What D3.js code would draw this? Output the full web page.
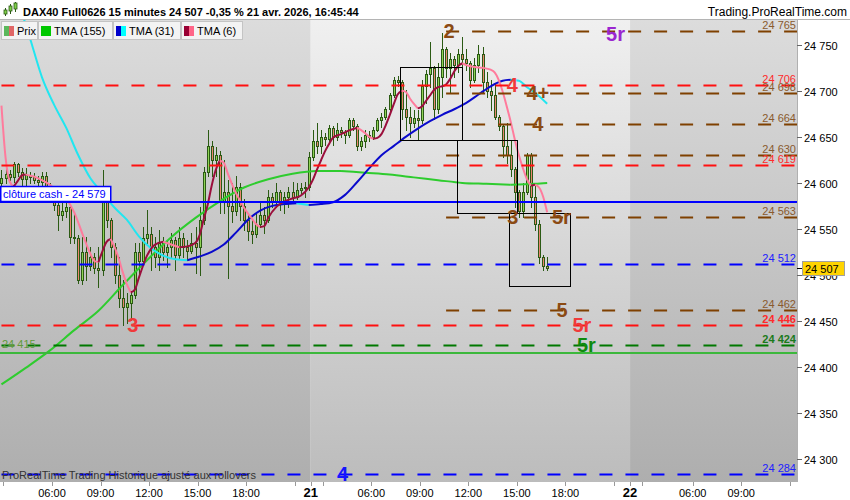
<!DOCTYPE html>
<html><head><meta charset="utf-8">
<script src="https://cdn.jsdelivr.net/npm/d3@7"></script>
<style>body{margin:0;background:#fff;} svg{display:block;font-family:"Liberation Sans",Arial,sans-serif;}</style>
</head><body><svg id="c" width="850" height="500"></svg>
<script>
// ---------- DATA ----------
const opens = [24600,24605,24610,24606,24620,24612,24604,24609,24606,24603,24601,24608,24590,24588,24576,24565,24570,24574,24541,24540,
24495,24525,24510,24520,24508,24505,24590,24560,24530,24500,24475,24465,24470,24478,24525,24515,24540,24545,24530,24520,
24535,24525,24530,24538,24522,24540,24530,24526,24535,24530,24560,24612,24640,24625,24630,24580,24590,24575,24570,24595,
24575,24560,24548,24545,24555,24565,24560,24585,24580,24590,24580,24585,24590,24585,24592,24594,24596,24628,24645,24640,
24650,24648,24660,24650,24658,24655,24652,24668,24662,24640,24645,24652,24650,24658,24668,24672,24680,24695,24712,24710,
24680,24672,24665,24670,24668,24705,24718,24725,24680,24715,24745,24725,24735,24728,24740,24735,24730,24712,24728,24740,
24710,24700,24695,24672,24662,24640,24630,24615,24590,24570,24590,24630,24585,24555,24520,24510];
const closes = [24605,24610,24606,24620,24612,24604,24609,24606,24603,24601,24608,24590,24588,24576,24565,24570,24574,24541,24540,24495,
24525,24510,24520,24508,24505,24590,24560,24530,24500,24475,24465,24470,24478,24525,24515,24540,24545,24530,24520,24535,
24525,24530,24538,24522,24540,24530,24526,24535,24530,24560,24612,24640,24625,24630,24580,24590,24575,24570,24595,24575,
24560,24548,24545,24555,24565,24560,24585,24580,24590,24580,24585,24590,24585,24592,24594,24596,24628,24645,24640,24650,
24648,24660,24650,24658,24655,24652,24668,24662,24640,24645,24652,24650,24658,24668,24672,24680,24695,24712,24710,24680,
24672,24665,24670,24668,24705,24718,24725,24680,24715,24745,24725,24735,24728,24740,24735,24730,24712,24728,24740,24710,
24700,24695,24672,24662,24640,24630,24615,24590,24570,24590,24630,24585,24555,24520,24510,24507];
const highs = [24614,24617,24614,24623,24622,24616,24616,24612,24611,24607,24612,24612,24600,24589,24582,24578,24578,24576,24567,24543,
24541,24541,24530,24524,24530,24614,24595,24562,24535,24520,24495,24480,24482,24535,24535,24552,24571,24552,24541,24549,
24541,24538,24546,24541,24552,24546,24538,24546,24552,24574,24617,24658,24645,24639,24635,24625,24603,24600,24607,24600,
24582,24567,24560,24567,24578,24574,24592,24589,24600,24592,24590,24596,24601,24600,24600,24601,24634,24658,24665,24658,
24654,24663,24662,24665,24661,24658,24671,24670,24664,24650,24658,24656,24661,24671,24676,24683,24698,24715,24716,24712,
24701,24683,24679,24679,24712,24723,24753,24727,24730,24763,24748,24741,24738,24745,24759,24745,24732,24736,24750,24748,
24720,24712,24709,24674,24664,24665,24647,24617,24592,24600,24633,24632,24600,24560,24522,24519];
const lows = [24596,24600,24603,24601,24607,24598,24596,24600,24600,24596,24596,24584,24585,24571,24549,24560,24563,24535,24535,24491,
24490,24495,24505,24502,24487,24500,24552,24520,24491,24465,24446,24448,24451,24475,24502,24512,24535,24505,24509,24505,
24516,24509,24520,24505,24518,24520,24516,24524,24502,24500,24555,24608,24607,24607,24567,24567,24497,24557,24565,24560,
24549,24538,24535,24541,24552,24546,24557,24574,24574,24571,24567,24574,24578,24583,24589,24585,24592,24625,24633,24633,
24641,24645,24641,24647,24650,24643,24650,24658,24636,24636,24639,24645,24648,24656,24661,24669,24678,24693,24705,24669,
24658,24650,24661,24647,24665,24687,24704,24669,24676,24693,24715,24698,24715,24720,24720,24723,24704,24710,24720,24698,
24693,24679,24669,24658,24628,24622,24607,24574,24563,24563,24588,24574,24549,24513,24505,24505];

const tma155Idx = [0,6,12,18,24,30,36,42,48,54,60,66,72,78,84,90,96,102,108,114,120,126,132,135];
const tma155Val = [24381,24399,24418,24440,24461,24489,24516,24541,24562,24580,24595,24604,24610,24613,24613,24611,24609,24606,24603,24600,24599,24598,24599,24600];

const tma31Idx = [0,4,7,10,13,16,19,22,25,28,31,34,37,40,43,46,49,52,55,58,61,64,67,70,73,76,79,82,85,88,91,94,97,100,103,106,109,112,115,118,121,124,126,128,130,132,135];
const tma31Val = [24848,24799,24758,24715,24685,24660,24630,24605,24589,24573,24560,24542,24529,24521,24517,24516,24520,24525,24533,24546,24560,24570,24575,24577,24578,24576,24577,24579,24587,24601,24616,24630,24640,24650,24659,24667,24674,24680,24687,24696,24705,24711,24712,24711,24704,24698,24686];

const tma6Idx = [0,1,2,3,4,5,6,8,10,12,14,16,18,20,22,23,24,25,26,27,28,29,30,31,32,33,34,36,38,40,42,44,46,48,49,50,51,52,53,54,55,56,57,58,59,60,62,63,64,65,66,68,70,72,74,76,77,78,79,80,81,82,84,86,88,90,
91,92,93,94,95,96,97,98,99,100,101,102,103,104,105,106,107,108,109,110,111,112,113,114,115,117,119,121,122,123,124,125,126,127,128,129,130,131,132,133,134,135];
const tma6Val = [24684,24628,24602,24596,24602,24608,24609,24607,24603,24598,24590,24583,24568,24545,24523,24515,24514,24526,24536,24539,24530,24518,24503,24490,24481,24484,24497,24521,24533,24536,24533,24530,24531,24535,24543,24560,24576,24597,24614,24624,24622,24610,24599,24589,24581,24573,24561,24555,24552,24553,24562,24574,24580,24583,24586,24595,24603,24614,24624,24634,24642,24649,24653,24657,24660,24654,
24650,24648,24649,24653,24662,24673,24685,24696,24700,24699,24692,24686,24681,24683,24689,24695,24701,24704,24705,24707,24713,24721,24727,24730,24728,24726,24725,24723,24720,24712,24699,24683,24666,24647,24630,24616,24604,24597,24598,24595,24585,24568];

const levelValues = [24765,24706,24698,24664,24630,24619,24563,24512,24462,24446,24424,24284];
const levelKinds  = ["brown","red","brown","brown","brown","red","brown","blue","brown","red","green","blue"];
const levelStartIdx = [110,0,110,110,110,0,110,0,110,0,0,0];
const levelBold = [false,false,false,false,false,false,false,false,false,true,true,false];

const cashClose = 24579;
const supportLine = 24415;
const lastPrice = 24507;

const annoText  = ["2","5r","4","4+","4","3","5r","5","5r","5r","3","4"];
const annoIdx   = [111.2,152.4,126.9,133.2,133.2,127.0,139.0,139.2,144.1,145.2,33.0,84.9];
const annoPrice = [24765,24762,24706,24698,24664,24563,24563,24462,24446,24424,24446,24284];
const annoKind  = ["brown","purple","red","brown","brown","brown","brown","brown","red","green","red","blue"];

const boxStartIdx = [99.1,113.2,126.0];
const boxEndIdx   = [114.4,128.0,141.1];
const boxTop      = [24726,24647,24567];
const boxBottom   = [24647,24567,24488];

const sessionBounds = [0,77,156,197.3];
const timeLabelIdx = [13,25,37,49,61,77,92,104,116,128,140,156,171.5,183.5];
const timeLabels = ["06:00","09:00","12:00","15:00","18:00","21","06:00","09:00","12:00","15:00","18:00","22","06:00","09:00"];
const timeMarkIdx = [1,13,25,37,49,61,73,77,80,92,104,116,128,140,152,156,159,171.5,183.5,195.5];
const priceTicks = [24300,24350,24400,24450,24500,24550,24600,24650,24700,24750];

// ---------- DRAW ----------
const W=850,H=500, L=0,R=797,T=20,B=482;
const svg=d3.select("#c");
const x=d3.scaleLinear().domain([0,197.3]).range([-0.55,797]);
const y=d3.scaleLinear().domain([24275,24777]).range([B,T]);
const fmt=d3.formatLocale({decimal:",",thousands:" ",grouping:[3],currency:["","€"]}).format(",d");

const defs=svg.append("defs");
function grad(id,c1,c2){const g=defs.append("linearGradient").attr("id",id).attr("x1",0).attr("y1",0).attr("x2",0).attr("y2",1);
 g.append("stop").attr("offset","0%").attr("stop-color",c1);g.append("stop").attr("offset","100%").attr("stop-color",c2);}
grad("gDark","#dcdcdc","#aeaeae");grad("gLight","#f0f0f0","#bcbcbc");
defs.append("clipPath").attr("id","plot").append("rect").attr("x",L).attr("y",T).attr("width",R-L).attr("height",B-T);

svg.append("rect").attr("width",W).attr("height",H).attr("fill","#fff");
// session backgrounds
const bg=svg.append("g");
for(let k=0;k<sessionBounds.length-1;k++){
  const x0=Math.max(L,x(sessionBounds[k])), x1=Math.min(R,x(sessionBounds[k+1]));
  bg.append("rect").attr("x",x0).attr("y",T).attr("width",x1-x0).attr("height",B-T).attr("fill",k%2===0?"url(#gDark)":"url(#gLight)");
}
const plot=svg.append("g").attr("clip-path","url(#plot)");

// candles
const bars=closes.map((c,i)=>({i,o:opens[i],h:highs[i],l:lows[i],c}));
const cg=plot.append("g");
bars.forEach(d=>{
  const cx=Math.round(x(d.i+0.5));
  cg.append("line").attr("x1",cx+0.5).attr("x2",cx+0.5).attr("y1",Math.round(y(d.h))).attr("y2",Math.round(y(d.l))+1)
    .attr("stroke","#2b5a14").attr("stroke-width",1);
  const yt=Math.round(y(Math.max(d.o,d.c))), yb=Math.round(y(Math.min(d.o,d.c)));
  cg.append("rect").attr("x",cx-0.5).attr("y",yt+0.5).attr("width",2).attr("height",Math.max(1,yb-yt))
    .attr("fill",d.c>=d.o?"#8fd356":"#ea8670").attr("stroke","#2b5a14").attr("stroke-width",1);
});

// moving averages
function maLine(idx,val,up,down,w){
  const pts=idx.map((i,k)=>({px:x(i+0.5),py:y(val[k]),v:val[k]}));
  const runs=[];let cur=[pts[0]],dir=null;
  for(let k=1;k<pts.length;k++){
    let d=Math.sign(pts[k].v-pts[k-1].v); if(d===0)d=dir===null?1:dir;
    if(dir!==null&&d!==dir){runs.push({dir,pts:cur});cur=[pts[k-1]];}
    dir=d;cur.push(pts[k]);
  }
  runs.push({dir,pts:cur});
  const line=d3.line().x(p=>p.px).y(p=>p.py).curve(d3.curveMonotoneX);
  runs.forEach(r=>plot.append("path").attr("d",line(r.pts)).attr("fill","none")
    .attr("stroke",r.dir>0?up:down).attr("stroke-width",w).attr("stroke-linejoin","round"));
}
maLine(tma155Idx,tma155Val,"#2ecc2e","#2ecc2e",2);
maLine(tma31Idx,tma31Val,"#0a0acc","#22e6f0",2);
maLine(tma6Idx,tma6Val,"#9b0f3c","#ff7b9c",2);

// levels
const lvColor={brown:"#7f4000",red:"#ff1010",blue:"#0000ff",green:"#007800"};
const lvText={brown:"#8a5a2e",red:"#ff2a2a",blue:"#2020ff",green:"#1a7a1a"};
levelValues.forEach((v,k)=>{
  plot.append("line").attr("x1",x(levelStartIdx[k])+2).attr("x2",R).attr("y1",Math.round(y(v))+0.5).attr("y2",Math.round(y(v))+0.5)
    .attr("stroke",lvColor[levelKinds[k]]).attr("stroke-width",2).attr("stroke-dasharray","13,13");
});
// support solid green & cash close
plot.append("line").attr("x1",L).attr("x2",R).attr("y1",Math.round(y(supportLine))).attr("y2",Math.round(y(supportLine)))
  .attr("stroke","#3cb83c").attr("stroke-width",2);
plot.append("line").attr("x1",L).attr("x2",R).attr("y1",Math.round(y(cashClose))).attr("y2",Math.round(y(cashClose)))
  .attr("stroke","#0000ff").attr("stroke-width",2);

// boxes
boxStartIdx.forEach((s,k)=>{
  const x0=Math.round(x(s))+0.5,x1=Math.round(x(boxEndIdx[k]))+0.5,y0=Math.round(y(boxTop[k]))+0.5,y1=Math.round(y(boxBottom[k]))+0.5;
  plot.append("rect").attr("x",x0).attr("y",y0).attr("width",x1-x0).attr("height",y1-y0).attr("fill","none").attr("stroke","#000").attr("stroke-width",1);
});

// level labels right
levelValues.forEach((v,k)=>{
  plot.append("text").attr("x",R-1).attr("y",Math.round(y(v))-2.5).attr("text-anchor","end")
   .attr("font-size",11).attr("font-weight",levelBold[k]?"bold":"normal").attr("fill",lvText[levelKinds[k]]).text(fmt(v));
});
plot.append("text").attr("x",2).attr("y",Math.round(y(supportLine))-5).attr("font-size",11).attr("fill","#5f9a3a").text(fmt(supportLine));

// cash label
const cy=Math.round(y(cashClose));
plot.append("rect").attr("x",0.75).attr("y",cy-15.5).attr("width",110).attr("height",15).attr("fill","#fff").attr("stroke","#0000ff").attr("stroke-width",1.5);
plot.append("text").attr("x",3).attr("y",cy-4).attr("font-size",11).attr("fill","#0000ff").text("clôture cash -  "+fmt(cashClose));

// annotations
const anColor={brown:"#8b4a13",purple:"#9b26d0",red:"#f03a3a",green:"#0f8a0f",blue:"#1515ff"};
annoText.forEach((t,k)=>{
  plot.append("text").attr("x",x(annoIdx[k])).attr("y",y(annoPrice[k])+7).attr("text-anchor","middle")
   .attr("font-size",20).attr("font-weight","bold").attr("fill",anColor[annoKind[k]]).text(t);
});

// footer text
plot.append("text").attr("x",2).attr("y",479).attr("font-size",11).attr("fill","#333").text("ProRealTime Trading  Historique ajusté aux rollovers");

// right axis
svg.append("line").attr("x1",R+0.5).attr("x2",R+0.5).attr("y1",T).attr("y2",B).attr("stroke","#b0b0b0");
const ax=svg.append("g");
priceTicks.forEach(v=>{
  const py=Math.round(y(v))+0.5;
  ax.append("line").attr("x1",R).attr("x2",R+5).attr("y1",py).attr("y2",py).attr("stroke","#666");
  ax.append("text").attr("x",R+7).attr("y",py+4).attr("font-size",11).attr("fill","#000").text(fmt(v));
});
// last price tag
const ly=Math.round(y(lastPrice))+0.5;
ax.append("line").attr("x1",R).attr("x2",R+6).attr("y1",ly).attr("y2",ly).attr("stroke","#000");
ax.append("rect").attr("x",802.5).attr("y",ly-7).attr("width",42).attr("height",14).attr("fill","#ffd400").attr("stroke","#a0a0a0");
ax.append("text").attr("x",805).attr("y",ly+4).attr("font-size",11).attr("fill","#000").text(fmt(lastPrice));

// bottom axis
const bx=svg.append("g");
timeMarkIdx.forEach(i=>bx.append("line").attr("x1",Math.round(x(i))+0.5).attr("x2",Math.round(x(i))+0.5).attr("y1",B).attr("y2",B+4).attr("stroke","#999"));
timeLabelIdx.forEach((i,k)=>{
  const day=timeLabels[k].indexOf(":")<0;
  bx.append("text").attr("x",x(i)).attr("y",497).attr("text-anchor","middle").attr("font-size",day?13:11)
    .attr("font-weight",day?"bold":"normal").attr("fill","#000").text(timeLabels[k]);
});

// header
svg.append("rect").attr("x",0).attr("y",0).attr("width",W).attr("height",T).attr("fill","#fff");
svg.append("line").attr("x1",0).attr("x2",W).attr("y1",19.5).attr("y2",19.5).attr("stroke","#b4b4b4");
const icon=svg.append("g");
[[5,8,16,10,14],[10,4,14,6,11],[15,2,12,3,9]].forEach(a=>{
  icon.append("line").attr("x1",a[0]+0.5).attr("x2",a[0]+0.5).attr("y1",a[1]).attr("y2",a[2]).attr("stroke","#2b5a14");
  icon.append("rect").attr("x",a[0]-1).attr("y",a[3]).attr("width",3).attr("height",a[4]-a[3]).attr("fill","#7fcf4a").attr("stroke","#2b5a14").attr("stroke-width",0.8);
});
svg.append("text").attr("x",23).attr("y",16).attr("font-size",11).attr("font-weight","bold").attr("fill","#000")
  .text("DAX40 Full0626 15 minutes 24 507 -0,35 % 21 avr. 2026, 16:45:44");
svg.append("text").attr("x",847).attr("y",15.5).attr("text-anchor","end").attr("font-size",12).attr("fill","#000").text("Trading.ProRealTime.com");

// legend
const legItems=[{t:"Prix",c1:"#5cb85c",c2:"#e06666",x:1,w:36},{t:"TMA (155)",c1:"#00c800",c2:"#00c800",x:38,w:74},
 {t:"TMA (31)",c1:"#0000cc",c2:"#00ffff",x:113,w:67},{t:"TMA (6)",c1:"#990033",c2:"#ff6688",x:181,w:61}];
const lg=svg.append("g");
legItems.forEach(it=>{
  lg.append("rect").attr("x",it.x+0.5).attr("y",21.5).attr("width",it.w).attr("height",18).attr("fill","#f3f3f3").attr("stroke","#c4c4c4");
  lg.append("rect").attr("x",it.x+3).attr("y",26).attr("width",5).attr("height",10).attr("fill",it.c1);
  lg.append("rect").attr("x",it.x+8).attr("y",26).attr("width",5).attr("height",10).attr("fill",it.c2);
  lg.append("text").attr("x",it.x+16).attr("y",35).attr("font-size",11).attr("fill","#000").text(it.t);
});
</script></body></html>
